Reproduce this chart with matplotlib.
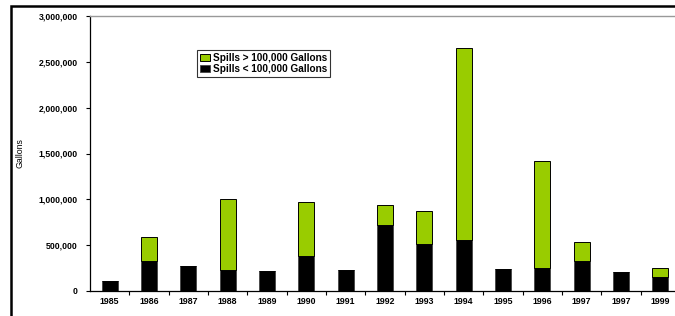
import matplotlib.pyplot as plt
from matplotlib.patches import Rectangle
from matplotlib.ticker import FuncFormatter

output = "out.png"
fz = 6.3

years = ['1985', '1986', '1987', '1988', '1989', '1990', '1991', '1992',
         '1993', '1994', '1995', '1996', '1997', '1997', '1999']
small_spills = [105000, 332000, 274000, 233000, 222000, 387000, 226000, 719000,
                510000, 551000, 237000, 255000, 328000, 211000, 149000]
large_spills = [0, 259000, 0, 770000, 0, 588000, 0, 223000,
                362000, 2095000, 0, 1158000, 209000, 0, 106000]

plt.rcParams['font.family'] = ['Liberation Sans', 'DejaVu Sans']
plt.rcParams['font.weight'] = 'bold'

fig = plt.figure(figsize=(6.75, 3.16), dpi=100)
ax = fig.add_axes([90 / 675, 25 / 316, 590 / 675, 275 / 316])

x = range(len(years))
ax.bar(x, small_spills, width=0.41, color='black', edgecolor='#444444', linewidth=0.6,
       label='Spills < 100,000 Gallons')
ax.bar(x, large_spills, bottom=small_spills, width=0.41, color='#99CC00', edgecolor='black',
       linewidth=0.7, label='Spills > 100,000 Gallons')

ax.set_xlim(-0.5, len(years) - 0.5)
ax.set_ylim(0, 3000000)
ax.set_yticks(range(0, 3000001, 500000))
ax.yaxis.set_major_formatter(FuncFormatter(lambda v, p: '{:,.0f}'.format(v)))
ax.set_xticks(list(x))
ax.set_xticklabels(years)
ax.set_xticks([i - 0.5 for i in range(1, len(years))], minor=True)
ax.tick_params(axis='x', which='major', length=0, pad=4, labelsize=fz)
ax.tick_params(axis='x', which='minor', length=3, width=0.8, direction='out')
ax.tick_params(axis='y', length=3, width=0.8, direction='out', pad=6, labelsize=fz)

ax.spines['right'].set_visible(False)
ax.spines['top'].set_color('#999999')
ax.spines['top'].set_linewidth(1.0)
ax.spines['left'].set_linewidth(0.9)
ax.spines['bottom'].set_linewidth(0.9)

ax.set_ylabel('Gallons', fontsize=fz)
ax.yaxis.set_label_coords(-0.111, 0.5)

handles, labels = ax.get_legend_handles_labels()
leg = ax.legend(handles[::-1], labels[::-1], loc='upper left', bbox_to_anchor=(0.181, 0.877),
                borderaxespad=0, fontsize=7.2, frameon=True, fancybox=False, borderpad=0.3,
                handlelength=1.0, handleheight=0.75, handletextpad=0.3, labelspacing=0.1)
leg.get_frame().set_edgecolor('black')
leg.get_frame().set_linewidth(0.8)

fig.add_artist(Rectangle((11 / 675, -0.5), 2.0, 0.5 + (316 - 6.5) / 316, transform=fig.transFigure,
                         fill=False, edgecolor='black', linewidth=1.8, clip_on=False))

plt.savefig(output, dpi=100)
plt.close()
